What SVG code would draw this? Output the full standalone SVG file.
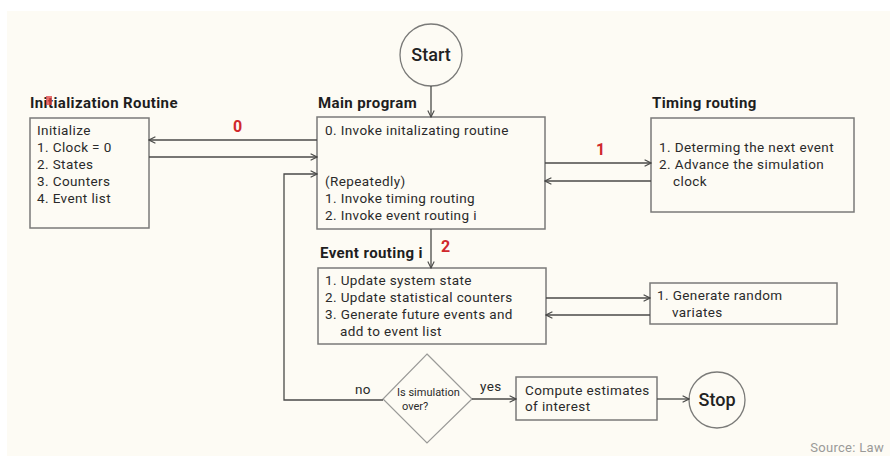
<svg xmlns="http://www.w3.org/2000/svg" width="890" height="456" viewBox="0 0 890 456">
<defs>
<style>
.bg{fill:#fdfbf4}
.box{fill:none;stroke:#7a7a78;stroke-width:1.5}
.con{fill:none;stroke:#4a4a48;stroke-width:1.3}
.t{font-family:Roboto,"Liberation Sans",sans-serif;font-size:13.5px;letter-spacing:0.4px;fill:#2a2a2a}
.title{font-family:Roboto,"Liberation Sans",sans-serif;font-size:15px;letter-spacing:0.4px;font-weight:bold;fill:#1e1e1e}
.red{font-family:Roboto,"Liberation Sans",sans-serif;font-size:16px;font-weight:bold;fill:#d0282c}
.big{font-family:Roboto,"Liberation Sans",sans-serif;font-size:18px;font-weight:500;fill:#222}
.small{font-family:Roboto,"Liberation Sans",sans-serif;font-size:11px;fill:#2a2a2a}
.src{font-family:Roboto,"Liberation Sans",sans-serif;font-size:13px;letter-spacing:0.3px;fill:#9a9a98}
</style>
<marker id="ah" viewBox="0 0 10 10" refX="9" refY="5" markerWidth="8" markerHeight="8" markerUnits="userSpaceOnUse" orient="auto">
<path d="M1,1 L9,5 L1,9" fill="none" stroke="#4a4a48" stroke-width="1.4"/>
</marker>
</defs>
<rect x="0" y="0" width="890" height="456" fill="#ffffff"/>
<rect class="bg" x="7" y="11" width="883" height="445"/>

<g id="start">
<circle cx="431" cy="55" r="31" fill="none" stroke="#7a7a78" stroke-width="1.3"/>
<text class="big" x="431" y="61" text-anchor="middle">Start</text>
</g>

<g id="init">
<text class="title" x="30" y="108">Initialization Routine</text>
<rect x="46" y="96" width="6" height="9" fill="#e04040" opacity="0.75"/>
<rect class="box" x="30" y="118" width="119" height="110"/>
<text class="t" x="37" y="135">Initialize</text>
<text class="t" x="37" y="152">1.  Clock = 0</text>
<text class="t" x="37" y="169">2. States</text>
<text class="t" x="37" y="186">3. Counters</text>
<text class="t" x="37" y="203">4. Event list</text>
</g>

<g id="main">
<text class="title" x="318" y="108">Main program</text>
<rect class="box" x="317" y="117" width="228" height="112"/>
<text class="t" x="325" y="135">0. Invoke initalizating routine</text>
<text class="t" x="325" y="186">(Repeatedly)</text>
<text class="t" x="325" y="203">1.  Invoke timing routing</text>
<text class="t" x="325" y="220">2. Invoke event routing i</text>
</g>

<g id="timing">
<text class="title" x="652" y="108">Timing routing</text>
<rect class="box" x="651" y="118" width="203" height="94"/>
<text class="t" x="659" y="152">1.  Determing the next event</text>
<text class="t" x="659" y="169">2. Advance the simulation</text>
<text class="t" x="673" y="186">clock</text>
</g>

<g id="event">
<text class="title" x="320" y="258">Event routing i</text>
<rect class="box" x="318" y="268" width="228" height="76"/>
<text class="t" x="325" y="285">1.  Update system state</text>
<text class="t" x="325" y="302">2. Update statistical counters</text>
<text class="t" x="325" y="319">3. Generate future events and</text>
<text class="t" x="340" y="336">add to event list</text>
</g>

<g id="random">
<rect class="box" x="650" y="283" width="187" height="41"/>
<text class="t" x="657" y="300">1.  Generate random</text>
<text class="t" x="672" y="317">variates</text>
</g>

<g id="decision">
<polygon points="427,354 472,399 427,443 383,399" fill="none" stroke="#9a9a98" stroke-width="1.2"/>
<text class="small" x="397" y="396">Is simulation</text>
<text class="small" x="402" y="410">over?</text>
</g>

<g id="compute">
<rect class="box" x="516" y="377" width="141" height="43"/>
<text class="t" x="525" y="395">Compute estimates</text>
<text class="t" x="525" y="411">of interest</text>
</g>

<g id="stop">
<circle cx="717" cy="400" r="28" fill="none" stroke="#7a7a78" stroke-width="1.3"/>
<text class="big" x="717" y="406" text-anchor="middle">Stop</text>
</g>

<g id="connectors">
<line class="con" x1="431" y1="86" x2="431" y2="117" marker-end="url(#ah)"/>
<line class="con" x1="317" y1="140" x2="149" y2="140" marker-end="url(#ah)"/>
<line class="con" x1="149" y1="157" x2="317" y2="157" marker-end="url(#ah)"/>
<polyline class="con" points="383,400 284,400 284,174 317,174" marker-end="url(#ah)"/>
<line class="con" x1="545" y1="163" x2="651" y2="163" marker-end="url(#ah)"/>
<line class="con" x1="651" y1="181" x2="545" y2="181" marker-end="url(#ah)"/>
<line class="con" x1="431" y1="229" x2="431" y2="268" marker-end="url(#ah)"/>
<line class="con" x1="546" y1="298" x2="650" y2="298" marker-end="url(#ah)"/>
<line class="con" x1="650" y1="315" x2="546" y2="315" marker-end="url(#ah)"/>
<line class="con" x1="472" y1="399" x2="516" y2="399" marker-end="url(#ah)"/>
<line class="con" x1="657" y1="399" x2="689" y2="399" marker-end="url(#ah)"/>
<text class="red" x="233" y="132">0</text>
<text class="red" x="596" y="155">1</text>
<text class="red" x="441" y="252">2</text>
<text class="t" x="355" y="394">no</text>
<text class="t" x="480" y="391">yes</text>
</g>

<text class="src" x="884" y="452" text-anchor="end">Source: Law</text>
</svg>
